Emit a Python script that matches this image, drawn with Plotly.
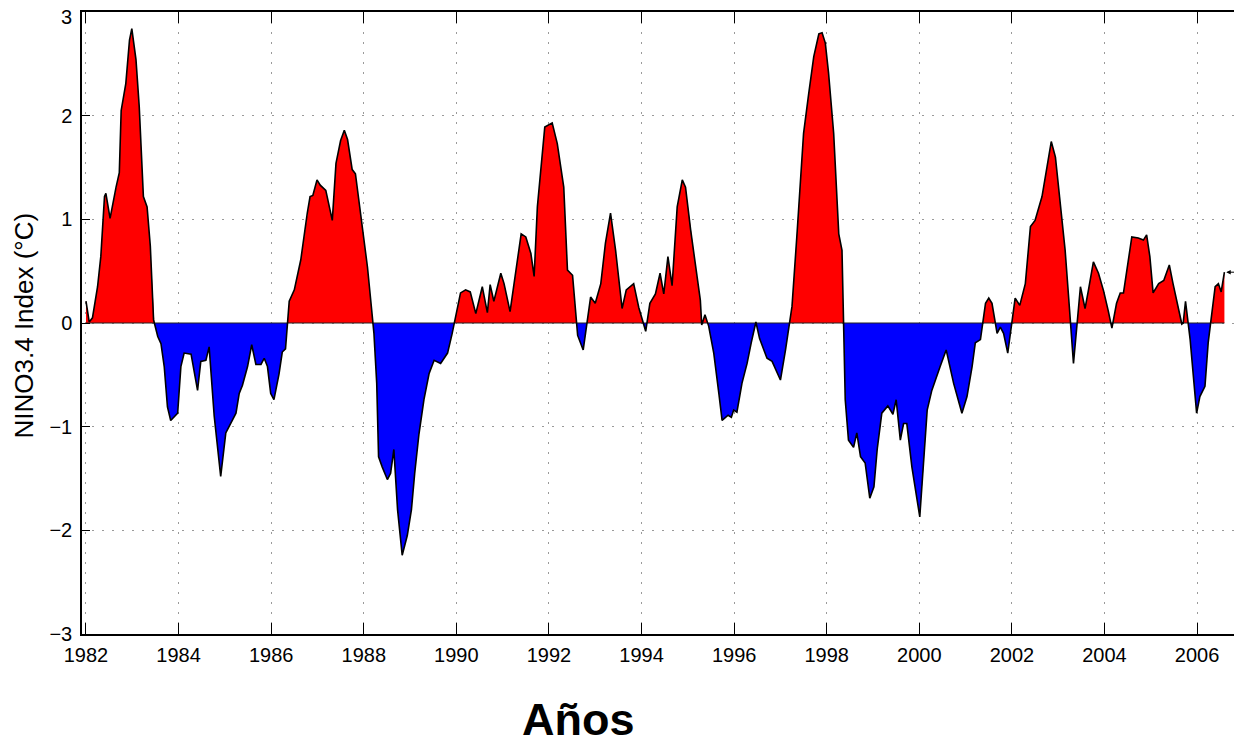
import plotly.graph_objects as go

# ---- data ----
years = [
    1982.00, 1982.07, 1982.14, 1982.25, 1982.32, 1982.40, 1982.43, 1982.52, 1982.65, 1982.72,
    1982.76, 1982.86, 1982.94, 1982.99, 1983.08, 1983.15, 1983.24, 1983.32, 1983.39, 1983.46,
    1983.55, 1983.62, 1983.69, 1983.76, 1983.83, 1983.98, 1984.05, 1984.12, 1984.27, 1984.41,
    1984.48, 1984.59, 1984.66, 1984.77, 1984.91, 1985.02, 1985.09, 1985.24, 1985.31, 1985.38,
    1985.49, 1985.58, 1985.67, 1985.78, 1985.85, 1985.92, 1985.99, 1986.06, 1986.17, 1986.24,
    1986.31, 1986.39, 1986.50, 1986.64, 1986.78, 1986.84, 1986.90, 1986.99, 1987.06, 1987.18,
    1987.32, 1987.40, 1987.50, 1987.58, 1987.65, 1987.75, 1987.82, 1987.94, 1988.08, 1988.17,
    1988.22, 1988.28, 1988.32, 1988.40, 1988.51, 1988.58, 1988.65, 1988.73, 1988.83, 1988.94,
    1989.03, 1989.10, 1989.19, 1989.30, 1989.41, 1989.52, 1989.66, 1989.81, 1989.91, 1990.09,
    1990.20, 1990.30, 1990.42, 1990.56, 1990.67, 1990.73, 1990.81, 1990.96, 1991.03, 1991.16,
    1991.28, 1991.40, 1991.50, 1991.61, 1991.68, 1991.75, 1991.91, 1992.07, 1992.18, 1992.32,
    1992.40, 1992.51, 1992.62, 1992.74, 1992.90, 1993.00, 1993.12, 1993.22, 1993.33, 1993.44,
    1993.58, 1993.67, 1993.83, 1993.94, 1994.09, 1994.18, 1994.30, 1994.40, 1994.48, 1994.57,
    1994.66, 1994.77, 1994.88, 1994.95, 1995.06, 1995.17, 1995.27, 1995.30, 1995.37, 1995.45,
    1995.56, 1995.67, 1995.74, 1995.87, 1995.94, 1995.99, 1996.06, 1996.17, 1996.28, 1996.37,
    1996.47, 1996.55, 1996.71, 1996.82, 1997.00, 1997.11, 1997.25, 1997.36, 1997.50, 1997.61,
    1997.72, 1997.83, 1997.90, 1997.97, 1998.04, 1998.15, 1998.26, 1998.33, 1998.40, 1998.47,
    1998.58, 1998.65, 1998.73, 1998.83, 1998.93, 1999.02, 1999.09, 1999.19, 1999.32, 1999.43,
    1999.50, 1999.59, 1999.66, 1999.73, 1999.84, 2000.01, 2000.09, 2000.17, 2000.27, 2000.38,
    2000.45, 2000.58, 2000.74, 2000.92, 2001.03, 2001.14, 2001.21, 2001.32, 2001.43, 2001.50,
    2001.57, 2001.68, 2001.75, 2001.82, 2001.91, 2002.07, 2002.17, 2002.29, 2002.40, 2002.50,
    2002.65, 2002.76, 2002.85, 2002.94, 2003.04, 2003.15, 2003.22, 2003.33, 2003.48, 2003.58,
    2003.65, 2003.76, 2003.87, 2003.98, 2004.08, 2004.16, 2004.26, 2004.34, 2004.41, 2004.50,
    2004.59, 2004.73, 2004.84, 2004.91, 2004.98, 2005.05, 2005.17, 2005.28, 2005.40, 2005.48,
    2005.60, 2005.67, 2005.70, 2005.75, 2005.85, 2005.92, 2005.99, 2006.06, 2006.17, 2006.24,
    2006.39, 2006.46, 2006.52, 2006.59,
]
nino34 = [
    0.21, 0.01, 0.05, 0.35, 0.64, 1.22, 1.25, 1.01, 1.31, 1.45,
    2.05, 2.31, 2.73, 2.84, 2.54, 2.09, 1.22, 1.12, 0.74, 0.03,
    -0.13, -0.20, -0.42, -0.81, -0.94, -0.87, -0.42, -0.29, -0.30, -0.65,
    -0.37, -0.36, -0.23, -0.90, -1.48, -1.06, -1.00, -0.87, -0.68, -0.60,
    -0.42, -0.21, -0.40, -0.40, -0.34, -0.42, -0.68, -0.74, -0.49, -0.28,
    -0.25, 0.21, 0.32, 0.61, 1.06, 1.22, 1.23, 1.38, 1.33, 1.28,
    0.99, 1.54, 1.76, 1.86, 1.77, 1.48, 1.44, 1.03, 0.54, 0.13,
    -0.10, -0.58, -1.29, -1.39, -1.51, -1.45, -1.22, -1.80, -2.24, -2.05,
    -1.80, -1.45, -1.08, -0.74, -0.49, -0.36, -0.39, -0.29, -0.10, 0.29,
    0.32, 0.30, 0.09, 0.35, 0.10, 0.37, 0.21, 0.48, 0.38, 0.11,
    0.48, 0.86, 0.83, 0.67, 0.45, 1.12, 1.89, 1.93, 1.73, 1.31,
    0.51, 0.46, -0.12, -0.26, 0.25, 0.19, 0.38, 0.77, 1.06, 0.70,
    0.14, 0.32, 0.38, 0.15, -0.08, 0.19, 0.28, 0.48, 0.28, 0.64,
    0.36, 1.12, 1.38, 1.31, 0.90, 0.54, 0.22, -0.02, 0.08, -0.03,
    -0.29, -0.68, -0.94, -0.89, -0.91, -0.84, -0.86, -0.58, -0.39, -0.19,
    0.01, -0.15, -0.34, -0.37, -0.55, -0.26, 0.16, 0.87, 1.83, 2.21,
    2.57, 2.79, 2.80, 2.70, 2.41, 1.83, 0.86, 0.70, -0.74, -1.13,
    -1.20, -1.06, -1.29, -1.35, -1.69, -1.58, -1.22, -0.87, -0.80, -0.88,
    -0.74, -1.13, -0.97, -0.97, -1.39, -1.87, -1.39, -0.84, -0.65, -0.52,
    -0.42, -0.26, -0.58, -0.87, -0.71, -0.42, -0.19, -0.16, 0.19, 0.24,
    0.19, -0.10, -0.04, -0.10, -0.29, 0.24, 0.17, 0.38, 0.93, 0.99,
    1.22, 1.51, 1.75, 1.60, 1.19, 0.70, 0.28, -0.39, 0.35, 0.14,
    0.31, 0.59, 0.48, 0.31, 0.12, -0.05, 0.19, 0.29, 0.29, 0.55,
    0.83, 0.82, 0.80, 0.85, 0.64, 0.29, 0.38, 0.41, 0.56, 0.38,
    0.13, -0.01, 0.00, 0.21, -0.16, -0.52, -0.87, -0.71, -0.61, -0.19,
    0.35, 0.38, 0.30, 0.49,
]
year_ticks = list(range(1982, 2007, 2))
index_ticks = [-3, -2, -1, 0, 1, 2, 3]

FONT = "Liberation Sans, Arial, Helvetica, sans-serif"


def fmt(t):
    return ("\u2212" + str(-t)) if t < 0 else str(t)


# ---- split into positive / negative parts with exact zero crossings ----
xs, ys = [], []
for i in range(len(years)):
    if i > 0:
        y0, y1 = nino34[i - 1], nino34[i]
        if (y0 > 0 and y1 < 0) or (y0 < 0 and y1 > 0):
            x0, x1 = years[i - 1], years[i]
            xc = x0 + (x1 - x0) * (0 - y0) / (y1 - y0)
            xs.append(xc)
            ys.append(0.0)
    xs.append(years[i])
    ys.append(nino34[i])

pos = [max(v, 0) for v in ys]
neg = [min(v, 0) for v in ys]

fig = go.Figure()
fig.add_trace(go.Scatter(x=[xs[0]] + xs + [xs[-1]], y=[0] + pos + [0], mode="lines",
                         line=dict(width=0), fill="toself", fillcolor="#ff0000",
                         hoverinfo="skip", showlegend=False))
fig.add_trace(go.Scatter(x=[xs[0]] + xs + [xs[-1]], y=[0] + neg + [0], mode="lines",
                         line=dict(width=0), fill="toself", fillcolor="#0000ff",
                         hoverinfo="skip", showlegend=False))
fig.add_trace(go.Scatter(x=[xs[0], xs[-1]], y=[0, 0], mode="lines",
                         line=dict(color="#222222", width=1.2), showlegend=False))
fig.add_trace(go.Scatter(x=years, y=nino34, mode="lines",
                         line=dict(color="black", width=1.6), showlegend=False))

# arrow marking the last value
fig.add_annotation(x=2006.63, y=nino34[-1], ax=16, ay=0, xref="x", yref="y",
                   showarrow=True, arrowhead=2, arrowsize=0.9, arrowwidth=1,
                   arrowcolor="black", text="")

# top tick label drawn separately so it is not clipped at the page top
top_tick = index_ticks[-1]
fig.add_annotation(text=fmt(top_tick), x=0, y=top_tick, xref="paper", yref="y",
                   xanchor="right", yanchor="middle", xshift=-9, yshift=-5, borderpad=0,
                   showarrow=False, font=dict(size=20, color="black", family=FONT))

# y-axis title
fig.add_annotation(text="NINO3.4 Index (\u00b0C)", x=-0.05, y=0.496, xref="paper", yref="paper",
                   textangle=-90, showarrow=False, xanchor="center", yanchor="middle",
                   font=dict(size=26, color="black", family=FONT))

# x label
fig.add_annotation(text="<b>Años</b>", x=0.4284, y=-0.138, xref="paper", yref="paper",
                   showarrow=False, xanchor="center", yanchor="middle",
                   font=dict(size=45, color="black", family=FONT))

axis_common = dict(showline=True, linecolor="black", linewidth=1.5, mirror="ticks",
                   ticks="inside", tickcolor="black", tickwidth=1,
                   showgrid=True, gridcolor="#9a9a9a", griddash="2px,8px", gridwidth=1,
                   zeroline=False, automargin=False,
                   tickfont=dict(size=20, color="black", family=FONT))

fig.update_xaxes(range=[1981.914, 2006.97], tickvals=year_ticks, ticklen=11,
                 ticklabelstandoff=2,
                 ticktext=[str(t) for t in year_ticks], **axis_common)
fig.update_yaxes(range=[-3, 3], tickvals=index_ticks, ticklen=8,
                 ticklabelstandoff=4,
                 ticktext=[fmt(t) if t != top_tick else "" for t in index_ticks],
                 **axis_common)

# the page body adds an 8px margin, so the figure is sized to fit the window
fig.update_layout(width=1234, height=736, plot_bgcolor="white", paper_bgcolor="white",
                  margin=dict(l=74, r=0, t=4, b=110, pad=0), showlegend=False)

fig.write_html("out.html")
